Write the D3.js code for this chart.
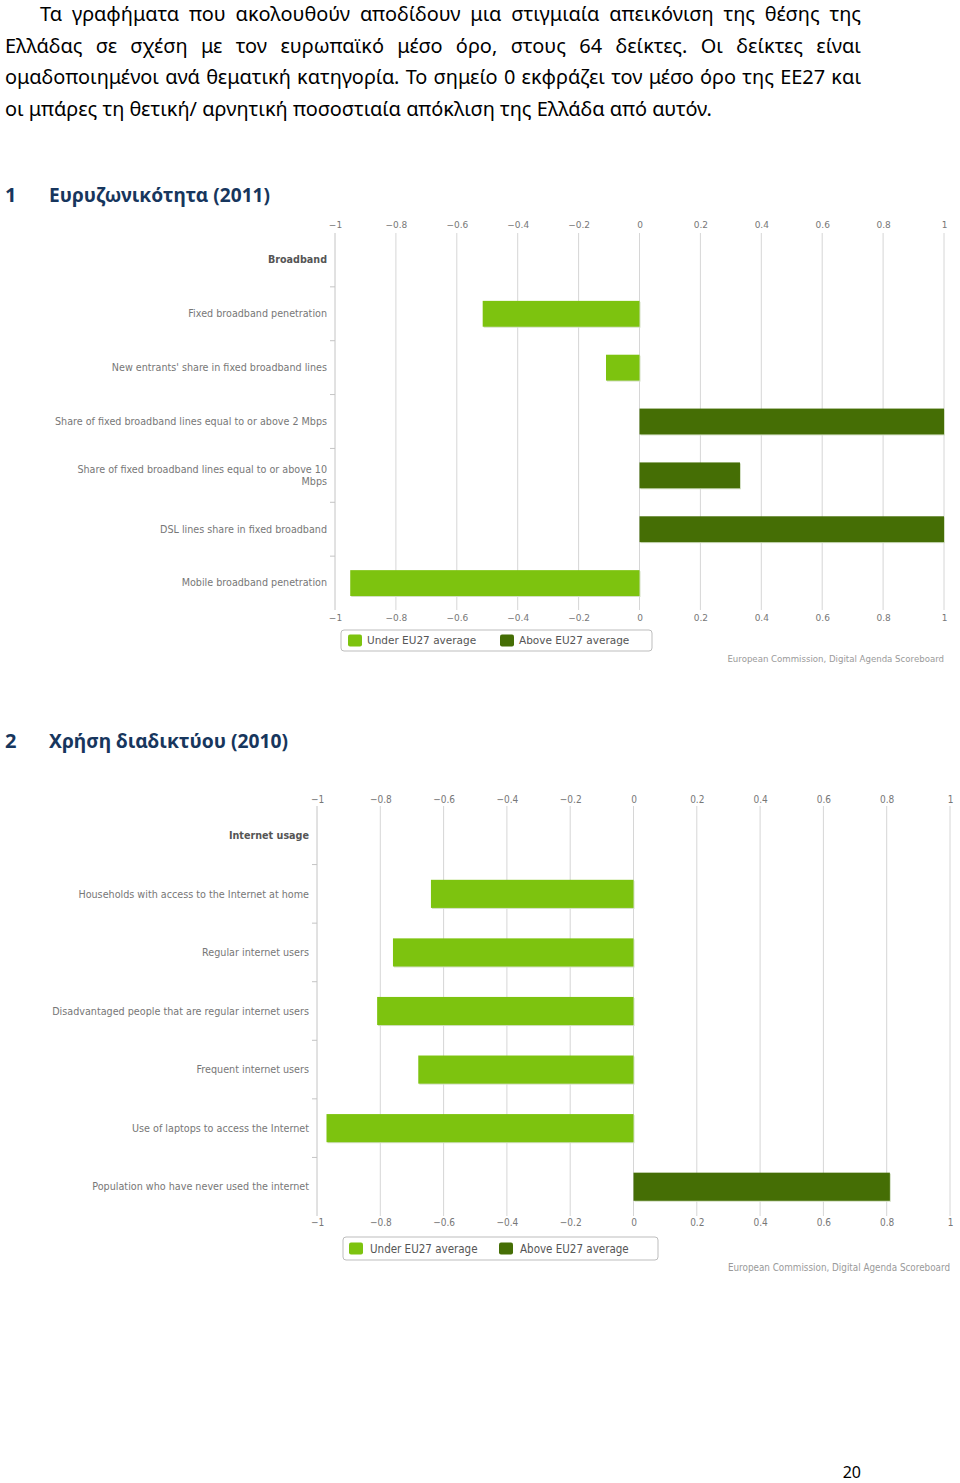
<!DOCTYPE html>
<html>
<head>
<meta charset="utf-8">
<script src="https://cdn.jsdelivr.net/npm/d3@7"></script>
<style>
  html, body { margin: 0; padding: 0; background: #fff; }
  svg { display: block; }
</style>
</head>
<body>
<svg id="page" width="960" height="1483"></svg>
<script>
/* ── Data ───────────────────────────────────────────────── */
const INTRO_LINES = [
  'Τα γραφήματα που ακολουθούν αποδίδουν μια στιγμιαία απεικόνιση της θέσης της',
  'Ελλάδας σε σχέση με τον ευρωπαϊκό μέσο όρο, στους 64 δείκτες. Οι δείκτες είναι',
  'ομαδοποιημένοι ανά θεματική κατηγορία. Το σημείο 0 εκφράζει τον μέσο όρο της ΕΕ27 και',
  'οι μπάρες τη θετική/ αρνητική ποσοστιαία απόκλιση της Ελλάδα από αυτόν.'
];

const HEADING_NUMBERS = ['1', '2'];
const HEADING_TITLES  = ['Ευρυζωνικότητα (2011)', 'Χρήση διαδικτύου (2010)'];

const BB_CATEGORIES = [
  'Broadband',
  'Fixed broadband penetration',
  "New entrants' share in fixed broadband lines",
  'Share of fixed broadband lines equal to or above 2 Mbps',
  'Share of fixed broadband lines equal to or above 10 Mbps',
  'DSL lines share in fixed broadband',
  'Mobile broadband penetration'
];
const BB_VALUES = [null, -0.515, -0.11, 1.0, 0.33, 1.0, -0.95];

const NET_CATEGORIES = [
  'Internet usage',
  'Households with access to the Internet at home',
  'Regular internet users',
  'Disadvantaged people that are regular internet users',
  'Frequent internet users',
  'Use of laptops to access the Internet',
  'Population who have never used the internet'
];
const NET_VALUES = [null, -0.64, -0.76, -0.81, -0.68, -0.97, 0.81];

const X_TICKS       = [-1, -0.8, -0.6, -0.4, -0.2, 0, 0.2, 0.4, 0.6, 0.8, 1];
const LEGEND_LABELS = ['Under EU27 average', 'Above EU27 average'];
const SOURCE_TEXT   = 'European Commission, Digital Agenda Scoreboard';
const PAGE_NUMBER   = '20';

/* ── Styles ─────────────────────────────────────────────── */
const C_UNDER = '#7dc30f';
const C_ABOVE = '#456e05';
const BODY_FONT = '"Noto Sans", "Open Sans", sans-serif';

const svg = d3.select('#page');

/* ── Justified intro paragraph ─────────────────────────── */
function drawIntro() {
  const g = svg.append('g').attr('font-family', BODY_FONT).attr('font-size', 20).attr('fill', '#000');
  const lines = [
    { x0: 40, x1: 861, y: 21,  justify: true },
    { x0: 5,  x1: 861, y: 53,  justify: true },
    { x0: 5,  x1: 861, y: 84,  justify: true },
    { x0: 5,  x1: 712, y: 116, justify: false }
  ];

  // measure natural widths first
  const probe = g.append('text').attr('x', -1000).attr('y', -1000);
  const measure = s => { probe.text(s); return probe.node().getComputedTextLength(); };
  const spaceW = measure('a a') - measure('aa');
  const last = INTRO_LINES[INTRO_LINES.length - 1];
  const squeeze = (lines[3].x1 - lines[3].x0) / measure(last);

  INTRO_LINES.forEach((txt, i) => {
    const L = lines[i];
    const words = txt.split(' ');
    const widths = words.map(w => measure(w) * squeeze);
    const total = d3.sum(widths);
    const gap = L.justify ? (L.x1 - L.x0 - total) / (words.length - 1) : spaceW * squeeze;
    let x = L.x0;
    words.forEach((w, j) => {
      g.append('text')
        .attr('x', x).attr('y', L.y)
        .attr('textLength', widths[j])
        .attr('lengthAdjust', 'spacingAndGlyphs')
        .text(w);
      x += widths[j] + gap;
    });
  });
  probe.remove();
}

/* ── Section heading ───────────────────────────────────── */
function drawHeading(idx, y, width) {
  const g = svg.append('g')
    .attr('font-family', BODY_FONT).attr('font-weight', 'bold')
    .attr('font-size', 20).attr('fill', '#17365d');
  g.append('text').attr('x', 5).attr('y', y).text(HEADING_NUMBERS[idx]);
  g.append('text').attr('x', 49).attr('y', y)
    .attr('textLength', width).attr('lengthAdjust', 'spacingAndGlyphs')
    .text(HEADING_TITLES[idx]);
}

/* ── Diverging bar chart ───────────────────────────────── */
function drawChart(categories, values, o) {
  const g = svg.append('g').attr('font-family', o.font);

  const x = d3.scaleLinear().domain([-1, 1]).range([o.left, o.right]);
  const y = d3.scaleBand().domain(categories).range([o.top, o.bottom])
    .paddingInner(0.52).paddingOuter(0.26);

  // vertical grid
  g.append('g').selectAll('line').data(X_TICKS.slice(1)).join('line')
    .attr('x1', d => x(d)).attr('x2', d => x(d))
    .attr('y1', o.top).attr('y2', o.bottom)
    .attr('stroke', '#d6d6d6').attr('stroke-width', 1);

  // top and bottom axes (labels only)
  const fmt = d => d === 0 ? '0' : d3.format('')(d).replace('-', o.minus);
  const axisTop = d3.axisTop(x).tickValues(X_TICKS).tickSize(0).tickFormat(fmt);
  const axisBot = d3.axisBottom(x).tickValues(X_TICKS).tickSize(0).tickFormat(fmt);
  [ [axisTop, o.top + o.topDy], [axisBot, o.bottom + o.botDy] ].forEach(([ax, ty]) => {
    const a = g.append('g').attr('transform', `translate(0,${ty})`).call(ax);
    a.select('.domain').remove();
    a.selectAll('text').attr('font-family', o.font).attr('font-size', o.tickSize).attr('fill', '#777');
  });

  // category axis line + small ticks between categories
  g.append('line')
    .attr('x1', o.left).attr('x2', o.left).attr('y1', o.top).attr('y2', o.bottom)
    .attr('stroke', '#c4c4c4');
  g.append('g').selectAll('line').data(categories.slice(1)).join('line')
    .attr('x1', o.left - 5).attr('x2', o.left)
    .attr('y1', d => y(d) - y.step() * y.paddingInner() / 2)
    .attr('y2', d => y(d) - y.step() * y.paddingInner() / 2)
    .attr('stroke', '#c4c4c4');

  // category labels (wrapped at max width)
  const labels = g.append('g').attr('font-size', o.labelSize).attr('fill', '#777').attr('text-anchor', 'end');
  categories.forEach((c, i) => {
    const t = labels.append('text')
      .attr('x', o.left - 8)
      .attr('font-weight', i === 0 ? 'bold' : null)
      .attr('fill', i === 0 ? '#555' : null);
    const words = c.split(' ');
    let lines = [[]];
    words.forEach(w => {
      const cur = lines[lines.length - 1];
      t.text(cur.concat(w).join(' '));
      if (cur.length && t.node().getComputedTextLength() > o.labelMax) lines.push([w]);
      else cur.push(w);
    });
    t.text(null);
    const cy = y(c) + y.bandwidth() / 2;
    const lh = o.labelSize * 1.25;
    lines.forEach((ln, k) => {
      t.append('tspan')
        .attr('x', o.left - 8)
        .attr('y', cy + (k - (lines.length - 1) / 2) * lh + o.labelSize * 0.35)
        .text(ln.join(' '));
    });
  });

  // bars
  const data = categories.map((c, i) => ({ c, v: values[i] })).filter(d => d.v != null);
  const bars = g.append('g');
  bars.selectAll('rect.shadow').data(data).join('rect')
    .attr('class', 'shadow')
    .attr('x', d => Math.min(x(0), x(d.v)) + 1)
    .attr('y', d => y(d.c) + 1)
    .attr('width', d => Math.abs(x(d.v) - x(0)))
    .attr('height', y.bandwidth())
    .attr('fill', '#d3dfc4');
  bars.selectAll('rect.bar').data(data).join('rect')
    .attr('class', 'bar')
    .attr('x', d => Math.min(x(0), x(d.v)))
    .attr('y', d => y(d.c))
    .attr('width', d => Math.abs(x(d.v) - x(0)))
    .attr('height', y.bandwidth())
    .attr('fill', d => d.v < 0 ? C_UNDER : C_ABOVE);

  // legend
  const lg = g.append('g').attr('transform', `translate(${o.legend.x},${o.legend.y})`);
  lg.append('rect')
    .attr('width', o.legend.w).attr('height', o.legend.h).attr('rx', 3)
    .attr('fill', '#fff').attr('stroke', '#bdbdbd');
  LEGEND_LABELS.forEach((lab, i) => {
    const item = lg.append('g').attr('transform', `translate(${o.legend.items[i]},0)`);
    item.append('rect')
      .attr('x', 0).attr('y', (o.legend.h - 12) / 2)
      .attr('width', 14).attr('height', 12).attr('rx', 2)
      .attr('fill', i === 0 ? C_UNDER : C_ABOVE);
    item.append('text')
      .attr('x', o.legend.textDx).attr('y', o.legend.h / 2 + o.legend.size * 0.36)
      .attr('font-size', o.legend.size).attr('fill', '#555')
      .text(lab);
  });

  // source credit
  g.append('text')
    .attr('x', o.right).attr('y', o.sourceY)
    .attr('text-anchor', 'end').attr('font-size', o.sourceSize).attr('fill', '#9a9a9a')
    .text(SOURCE_TEXT);
}

/* ── Build page ─────────────────────────────────────────── */
drawIntro();
drawHeading(0, 202, 221);
drawHeading(1, 748, 239);

drawChart(BB_CATEGORIES, BB_VALUES, {
  font: '"DejaVu Sans", Verdana, sans-serif',
  left: 335, right: 944, top: 233, bottom: 610,
  topDy: -2, botDy: 2,
  minus: '\u2212', tickSize: 9, labelSize: 9.6, labelMax: 278,
  legend: { x: 341, y: 630, w: 311, h: 21, items: [7, 159], textDx: 19, size: 10.5 },
  sourceY: 662, sourceSize: 8.6
});

drawChart(NET_CATEGORIES, NET_VALUES, {
  font: '"DejaVu Sans Condensed", "DejaVu Sans", sans-serif',
  left: 317, right: 950, top: 806, bottom: 1216,
  topDy: 0, botDy: 0,
  minus: '- ', tickSize: 10, labelSize: 10.7, labelMax: 300,
  legend: { x: 343, y: 1237, w: 315, h: 23, items: [6, 156], textDx: 21, size: 11.5 },
  sourceY: 1271, sourceSize: 9.8
});

svg.append('text')
  .attr('x', 861).attr('y', 1478).attr('text-anchor', 'end')
  .attr('font-family', BODY_FONT).attr('font-size', 16).attr('fill', '#000')
  .text(PAGE_NUMBER);
</script>
</body>
</html>
